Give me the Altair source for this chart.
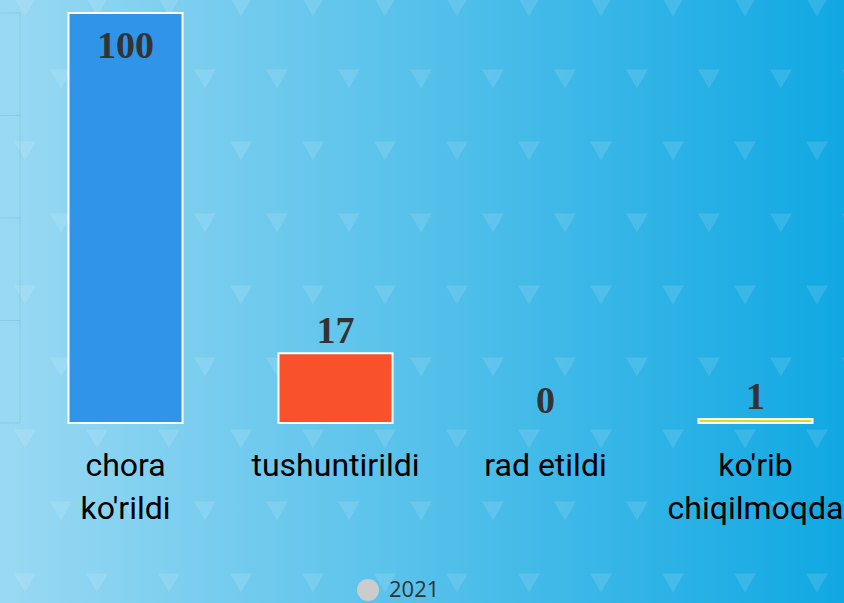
import altair as alt
import pandas as pd

# ---- data ----
categories = ["chora\nko'rildi", "tushuntirildi", "rad etildi", "ko'rib\nchiqilmoqda"]
values = [100, 17, 0, 1]
bar_colors = ["#3094E9", "#F9512B", "#8E44AD", "#D6E01C"]
series_name = ["2021"]
grid_ticks = [0, 25, 50, 75, 100]

# ---- layout ----
W, H = 807, 410
PAD = {"left": 37, "top": 13, "right": 0, "bottom": 180}

df = pd.DataFrame({"category": categories, "value": values})

# decorative background pattern (triangle grid, pixel space)
tri_rows = []
for j in range(9):
    y0 = 7 + 72 * j
    x0 = 25 if j % 2 == 0 else 61
    for k in range(12):
        tri_rows.append({"px": x0 + 72 * k, "py": y0})
tri = pd.DataFrame(tri_rows)

one = pd.DataFrame({"a": [0]})

bg = alt.Chart(one).mark_rect(
    color=alt.LinearGradient(
        gradient="linear",
        stops=[alt.GradientStop(color="#9AD9F3", offset=0),
               alt.GradientStop(color="#10A8E2", offset=1)],
        x1=0, x2=1, y1=0, y2=0,
    )
).encode(x=alt.value(-37), x2=alt.value(807), y=alt.value(-13), y2=alt.value(590))

triangles = alt.Chart(tri).mark_point(
    shape="triangle-down", filled=True, color="white", opacity=0.12, size=484
).encode(
    x=alt.X("px:Q", scale=alt.Scale(domain=[37, 844], nice=False, zero=False), axis=None),
    y=alt.Y("py:Q", scale=alt.Scale(domain=[13, 423], nice=False, zero=False, reverse=True), axis=None),
)

xenc = alt.X(
    "category:N",
    sort=categories,
    scale=alt.Scale(domain=categories, paddingInner=0.457, paddingOuter=0.15),
    axis=alt.Axis(
        title=None, labelExpr="split(datum.label, '\\n')", labelFont="Roboto",
        labelFontSize=32, labelColor="#000000", labelLineHeight=43,
        labelBaseline="alphabetic", labelPadding=52, domain=False, ticks=False,
        grid=False, labelAngle=0, labelLimit=400, labelOverlap=False, zindex=2,
    ),
)
yscale = alt.Scale(domain=[0, 100], nice=False, zero=True)

grid = alt.Chart(pd.DataFrame({"value": grid_ticks})).mark_rule(
    color="#5b9ec2", opacity=0.22, strokeWidth=1
).encode(y=alt.Y("value:Q", scale=yscale, axis=None), x=alt.value(-37), x2=alt.value(-17))

vline = alt.Chart(one).mark_rule(color="#5b9ec2", opacity=0.22, strokeWidth=1).encode(
    x=alt.value(-17), y=alt.value(0), y2=alt.value(410)
)

bars = alt.Chart(df).mark_bar(stroke="white").encode(
    x=xenc,
    y=alt.Y("value:Q", scale=yscale, axis=None),
    color=alt.Color("category:N", scale=alt.Scale(domain=categories, range=bar_colors), legend=None),
    strokeWidth=alt.condition("datum.value > 0", alt.value(2), alt.value(0)),
)

text_style = dict(font="Liberation Serif", fontWeight="bold", fontSize=38,
                  color="#333333", baseline="alphabetic")

labels_out = alt.Chart(df).transform_joinaggregate(maxv="max(value)").transform_filter(
    "datum.value < datum.maxv"
).mark_text(dy=-10, **text_style).encode(
    x=xenc, y=alt.Y("value:Q", scale=yscale, axis=None), text="value:Q"
)

labels_in = alt.Chart(df).transform_joinaggregate(maxv="max(value)").transform_filter(
    "datum.value >= datum.maxv"
).mark_text(dy=45, **text_style).encode(
    x=xenc, y=alt.Y("value:Q", scale=yscale, axis=None), text="value:Q"
)

# legend carrier: the point itself sits outside the page, only its legend shows
legend_pt = alt.Chart(pd.DataFrame({"series": series_name})).mark_point(
    filled=True, color="#cccccc"
).encode(
    x=alt.value(-2000), y=alt.value(-2000),
    shape=alt.Shape(
        "series:N", scale=alt.Scale(domain=series_name, range=["circle"]),
        legend=alt.Legend(
            title=None, orient="none", legendX=320, legendY=566, symbolType="circle",
            symbolSize=484, symbolFillColor="#cccccc", symbolStrokeWidth=0,
            symbolOpacity=1, labelFont="Open Sans", labelFontSize=22,
            labelColor="#333333", labelOffset=10, padding=0, zindex=2,
        ),
    ),
)

inner = alt.layer(grid, vline, bars, labels_out, labels_in, legend_pt)

chart = alt.layer(bg, triangles, inner).resolve_scale(
    x="independent", y="independent"
).properties(
    width=W, height=H, padding=PAD,
    autosize=alt.AutoSizeParams(type="none"),
    background="#9AD9F3",
).configure_view(stroke=None)

chart.save("out.html", embed_options={"renderer": "svg", "actions": False})
